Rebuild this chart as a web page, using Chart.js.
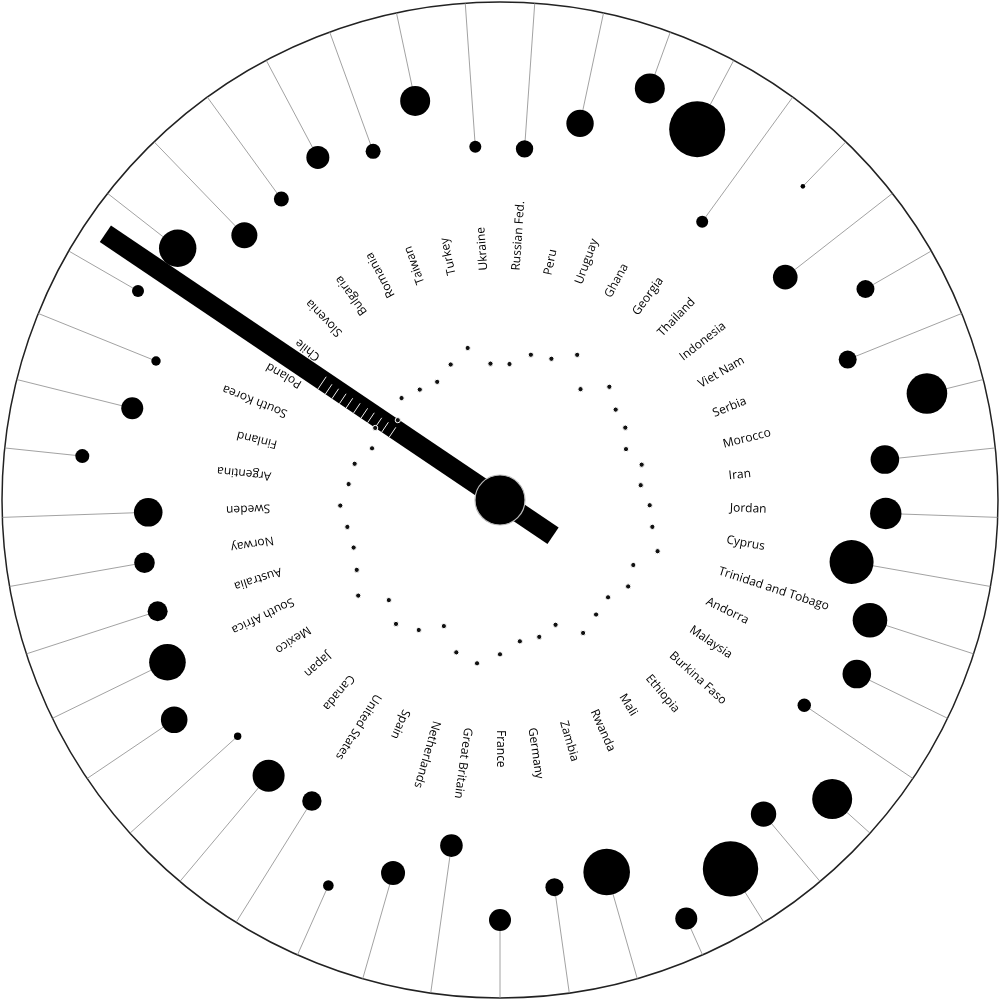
<!DOCTYPE html>
<html><head><meta charset="utf-8">
<script src="https://cdn.jsdelivr.net/npm/chart.js@4.4.1/dist/chart.umd.min.js"></script>
<style>html,body{margin:0;padding:0;background:#fff;overflow:hidden;} #wrap{width:1000px;height:1000px;position:relative;}</style>
</head><body><div id="wrap"><canvas id="c"></canvas></div>
<script>
const countries = ['Russian Fed.','Peru','Uruguay','Ghana','Georgia','Thailand','Indonesia','Viet Nam','Serbia','Morocco','Iran','Jordan','Cyprus','Trinidad and Tobago','Andorra','Malaysia','Burkina Faso','Ethiopia','Mali','Rwanda','Zambia','Germany','France','Great Britain','Netherlands','Spain','United States','Canada','Japan','Mexico','South Africa','Australia','Norway','Sweden','Argentina','Finland','South Korea','Poland','Chile','Slovenia','Bulgaria','Romania','Taiwan','Turkey','Ukraine'];
const outerValue = [352,385,438,420,344,436,362,422,375,440,387,386,357,389,397,367,447,410,435,458,387,391,420,349,388,422,355,360,353,393,370,360,361,352,420,379,371,418,409,368,372,388,371,408,354];
const dotSize = [8.7,13.7,15,28,6,2.3,12.3,9,9,20.3,14.3,15.7,22,17.3,14.3,6.7,20,12.7,27.7,11,23.3,9,11,11.3,12,5.3,9.7,16,3.7,13.3,18.3,10,10.3,14.3,7,11,4.7,6,18.7,13,7.5,11.5,7.5,15,6];
const innerValue = [136.3,148.5,150.3,164.4,137,157.4,146.8,144.7,135.9,146,141.5,149.8,154.7,165.7,148.3,154.6,145.4,149.5,156.8,136.6,142.4,142.7,154.3,164.9,158.5,138,153.3,161.8,149.6,171,159.4,153.9,155,159.8,152.2,149.8,138,144.1,129.7,141.7,136.5,133.8,144.2,155.4,136.7];
const handPosition = 37.5;
const handReach = 476;
const handTail = 64;
const handTicks = [213,204,196,187,179,170,161,153,144,136,127];

const N = countries.length;
const STEP = 360 / N;
const START = -90 + STEP / 2;
const RIM = 498;
const LABEL_R = 230;
const HAND_W = 20;
function ang(i){ return (START + STEP * i) * Math.PI / 180; }
function pt(r, a){ return {x: r * Math.cos(a), y: -r * Math.sin(a)}; }
function handPt(along, perp){
  const a = ang(handPosition);
  const sx = along * Math.cos(a) - perp * Math.sin(a);
  const sy = along * Math.sin(a) + perp * Math.cos(a);
  return {x: sx, y: -sy};
}

const datasets = [];
countries.forEach((c, i) => {
  datasets.push({type:'line', data:[pt(RIM, ang(i)), pt(outerValue[i], ang(i))], borderColor:'#8a8a8a', borderWidth:0.8, pointRadius:0, fill:false, order:6});
});
datasets.push({type:'bubble', data: countries.map((c,i)=>({...pt(outerValue[i], ang(i)), r: dotSize[i]})), backgroundColor:'#000', borderWidth:0, order:5});
datasets.push({type:'line', data:[handPt(-handTail,0), handPt(handReach,0)], borderColor:'#000', borderWidth:HAND_W, borderCapStyle:'butt', pointRadius:0, fill:false, order:4});
handTicks.forEach((t, k) => {
  datasets.push({type:'line', data:[handPt(t,-HAND_W/2), handPt(t, k===0 ? 5 : 2)], borderColor:'#eee', borderWidth:1, pointRadius:0, fill:false, order:3});
});
datasets.push({type:'bubble', data:[{x:0,y:0,r:25}], backgroundColor:'#000', borderColor:'#bbb', borderWidth:1.2, order:2});
datasets.push({type:'bubble', data: countries.map((c,i)=>({...pt(innerValue[i], ang(i)), r: 2.6})), backgroundColor:'#111', borderColor:'#fff', borderWidth:1, order:1});

const labelPlugin = {
  id:'radialLabels',
  beforeDatasetsDraw(chart){
    const {ctx, scales:{x, y}} = chart;
    const cx = x.getPixelForValue(0), cy = y.getPixelForValue(0);
    const k = x.getPixelForValue(1) - cx;
    ctx.save();
    ctx.beginPath();
    ctx.arc(cx, cy, RIM * k, 0, 2 * Math.PI);
    ctx.lineWidth = 1.5; ctx.strokeStyle = '#222'; ctx.stroke();
    ctx.font = '12px "Open Sans"';
    ctx.fillStyle = '#000'; ctx.textBaseline = 'middle'; ctx.textAlign = 'left';
    countries.forEach((c, i) => {
      ctx.save(); ctx.translate(cx, cy); ctx.rotate(ang(i)); ctx.fillText(c, LABEL_R * k, 0); ctx.restore();
    });
    ctx.restore();
  }
};

new Chart(document.getElementById('c'), {
  type:'scatter',
  data:{datasets},
  options:{
    responsive:true, maintainAspectRatio:false, animation:false, events:[],
    layout:{padding:0, autoPadding:false},
    plugins:{legend:{display:false}, tooltip:{enabled:false}},
    scales:{
      x:{type:'linear', min:-500, max:500, display:false},
      y:{type:'linear', min:-500, max:500, display:false}
    }
  },
  plugins:[labelPlugin]
});
</script></body></html>
